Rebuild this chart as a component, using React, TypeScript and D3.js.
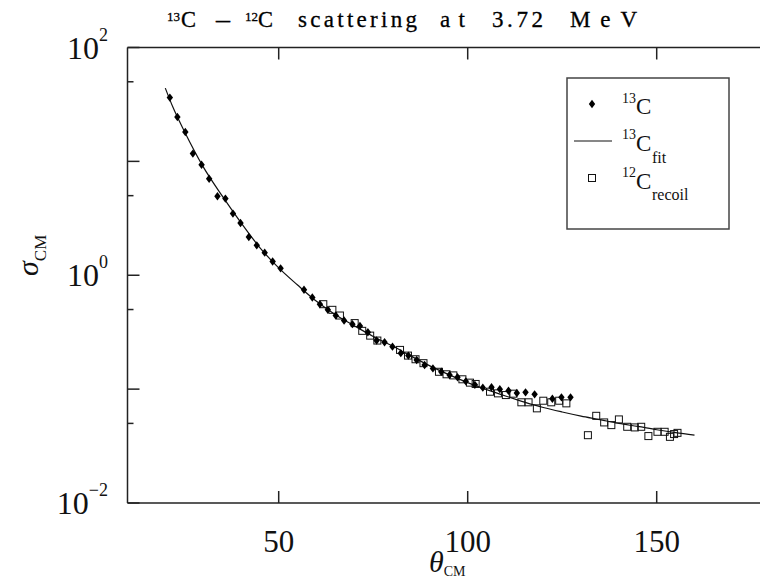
import React from "react";
import * as d3 from "d3";

// 13C data (filled diamonds)
const theta13 = [21.2, 23.2, 25.3, 27.3, 29.6, 31.6, 33.8, 35.9, 37.9, 39.9, 42.1, 44.2, 46.3, 48.4, 50.5,
  56.7, 58.9, 60.9, 63.0, 65.1, 67.3, 69.5, 71.5, 73.6, 75.9, 78.0, 80.1, 82.3, 84.3, 86.5, 88.6, 90.8,
  93.0, 95.2, 97.3, 99.5, 101.9, 104.0, 106.3, 108.5, 110.8, 113.0, 115.3, 117.7, 122.4, 124.8, 127.2];
const sigma13 = [36.3, 24.5, 18.1, 11.7, 9.33, 7.03, 4.94, 4.71, 3.48, 2.88, 2.17, 1.83, 1.58, 1.32, 1.15,
  0.745, 0.638, 0.557, 0.497, 0.443, 0.400, 0.372, 0.359, 0.316, 0.267, 0.258, 0.236, 0.207, 0.197, 0.180, 0.163, 0.152,
  0.142, 0.133, 0.127, 0.117, 0.109, 0.103, 0.104, 0.100, 0.0968, 0.0924, 0.0937, 0.0900, 0.0823, 0.0847, 0.0847];

// 12C recoil data (open squares)
const theta12 = [61.8, 64.2, 66.2, 70.1, 72.1, 74.2, 76.1, 82.1, 84.2, 86.2, 88.3, 92.4, 94.4, 96.2, 98.6, 100.6,
  102.1, 105.9, 108.0, 110.1, 112.1, 114.2, 116.1, 118.3, 120.0, 122.1, 124.2, 126.1, 131.8, 134.0, 136.1, 138.0,
  140.0, 142.2, 144.2, 145.9, 147.8, 150.2, 152.1, 153.5, 154.6, 155.5];
const sigma12 = [0.557, 0.497, 0.443, 0.380, 0.325, 0.295, 0.267, 0.221, 0.197, 0.183, 0.169, 0.142, 0.135, 0.132, 0.122, 0.114,
  0.111, 0.0949, 0.0918, 0.0887, 0.0912, 0.0766, 0.0766, 0.0678, 0.0791, 0.0766, 0.0791, 0.0750, 0.0394, 0.0583, 0.0510, 0.0483,
  0.0542, 0.0467, 0.0461, 0.0467, 0.0387, 0.0422, 0.0422, 0.0381, 0.0403, 0.0413];

// 13C fit curve (knots)
const thetaFit = [20, 22, 25, 30, 35, 40, 45, 50, 55, 60, 65, 70, 75, 80, 85, 90, 95, 100, 105, 110, 115, 120, 125, 130, 135, 140, 145, 150, 155, 160];
const sigmaFit = [44, 30, 18.5, 9.0, 5.0, 2.9, 1.75, 1.16, 0.82, 0.59, 0.45, 0.36, 0.29, 0.24, 0.195, 0.160, 0.134, 0.114, 0.099, 0.087, 0.077, 0.069, 0.063, 0.058, 0.054, 0.050, 0.047, 0.044, 0.0415, 0.0395];

const xTicks = [50, 100, 150];
const yMajor = [100, 10, 1, 0.1, 0.01];
const yMinor = [50, 5, 0.5, 0.05];
const yLabels = [
  { v: 100, exp: "2" },
  { v: 1, exp: "0" },
  { v: 0.01, exp: "\u22122" },
];

const SERIF = "'Liberation Serif', 'Times New Roman', serif";

export default function App() {
  const left = 127.5, top = 47.5, bottom = 503;
  const x = d3.scaleLinear().domain([10, 180]).range([left, left + 170 * 3.78]);
  const y = d3.scaleLog().domain([0.01, 100]).range([bottom, top]);

  const fitLine = d3.line<number>()
    .x((_, i) => x(thetaFit[i]))
    .y((d) => y(d))
    .curve(d3.curveMonotoneX)(sigmaFit) || "";

  const diamond = "M0,-4.2L3.2,0L0,4.2L-3.2,0Z";

  return (
    <svg width={760} height={581} style={{ position: "absolute", left: 0, top: 0, background: "#fff" }} fontFamily={SERIF}>
      <rect x={0} y={0} width={760} height={581} fill="#fff" />
      {/* Title */}
      <g fontSize={23} fill="#000" stroke="#000" strokeWidth={0.3}>
        <text x={167} y={21} fontSize={13}>13</text>
        <text x={181} y={27} textLength={15} lengthAdjust="spacingAndGlyphs">C</text>
        <text x={216} y={27} textLength={14} lengthAdjust="spacingAndGlyphs">–</text>
        <text x={245} y={21} fontSize={13}>12</text>
        <text x={258} y={27} textLength={15} lengthAdjust="spacingAndGlyphs">C</text>
        <text x={298} y={27} textLength={119} lengthAdjust="spacing">scattering</text>
        <text x={440} y={27} textLength={25} lengthAdjust="spacing">at</text>
        <text x={492} y={27} textLength={51} lengthAdjust="spacing">3.72</text>
        <text x={570} y={27} textLength={67} lengthAdjust="spacing">MeV</text>
      </g>

      {/* Frame */}
      <g stroke="#222" strokeWidth={1.5} fill="none">
        <line x1={left} y1={top} x2={760} y2={top} />
        <line x1={left} y1={top} x2={left} y2={bottom} />
        <line x1={left} y1={bottom} x2={760} y2={bottom} />
        {xTicks.map((t) => (
          <g key={t}>
            <line x1={x(t)} x2={x(t)} y1={bottom} y2={bottom - 12} />
            <line x1={x(t)} x2={x(t)} y1={top} y2={top + 12} />
          </g>
        ))}
        {yMajor.map((t) => (
          <line key={t} x1={left} x2={left + 12} y1={y(t)} y2={y(t)} />
        ))}
        {yMinor.map((t) => (
          <line key={t} x1={left} x2={left + 6} y1={y(t)} y2={y(t)} />
        ))}
      </g>

      {/* X tick labels */}
      <g fontSize={31} fill="#111" textAnchor="middle">
        {xTicks.map((t) => (
          <text key={t} x={x(t)} y={552}>{t}</text>
        ))}
      </g>
      {/* Y tick labels */}
      <g fill="#111">
        {yLabels.map((l) => (
          <text key={l.v} x={108} y={y(l.v) + 11} textAnchor="end" fontSize={32}>
            10<tspan fontSize={18} dy={-18}>{l.exp}</tspan>
          </text>
        ))}
      </g>

      {/* Axis titles */}
      <text x={429} y={572} fontSize={30} fontStyle="italic" fill="#111">θ
        <tspan fontStyle="normal" fontSize={14} dy={4}>CM</tspan>
      </text>
      <text transform="translate(38,276) rotate(-90)" fontSize={30} fontStyle="italic" fill="#111">σ
        <tspan fontStyle="normal" fontSize={17} dy={8}>CM</tspan>
      </text>

      {/* Fit line */}
      <path d={fitLine} fill="none" stroke="#111" strokeWidth={1.2} />

      {/* 12C recoil squares */}
      <g fill="none" stroke="#111" strokeWidth={1}>
        {theta12.map((t, i) => (
          <rect key={i} x={x(t) - 3.5} y={y(sigma12[i]) - 3.5} width={7} height={7} />
        ))}
      </g>
      {/* 13C diamonds */}
      <g fill="#000">
        {theta13.map((t, i) => (
          <path key={i} d={diamond} transform={`translate(${x(t)},${y(sigma13[i])})`} />
        ))}
      </g>

      {/* Legend */}
      <rect x={567} y={78} width={162} height={151} fill="#fff" stroke="#444" strokeWidth={1.5} />
      <path d={diamond} transform="translate(592,104)" fill="#000" />
      <text x={622} y={103} fontSize={14} fill="#111">13</text>
      <text x={636} y={114} fontSize={23} fill="#111">C</text>
      <line x1={574} x2={612} y1={141} y2={141} stroke="#111" strokeWidth={1.2} />
      <text x={622} y={139} fontSize={14} fill="#111">13</text>
      <text x={636} y={151} fontSize={23} fill="#111">C</text>
      <text x={652} y={163} fontSize={16} fill="#111">fit</text>
      <rect x={588.5} y={174.5} width={7} height={7} fill="none" stroke="#111" strokeWidth={1} />
      <text x={622} y={177} fontSize={14} fill="#111">12</text>
      <text x={636} y={189} fontSize={23} fill="#111">C</text>
      <text x={652} y={200} fontSize={16} fill="#111">recoil</text>
    </svg>
  );
}
